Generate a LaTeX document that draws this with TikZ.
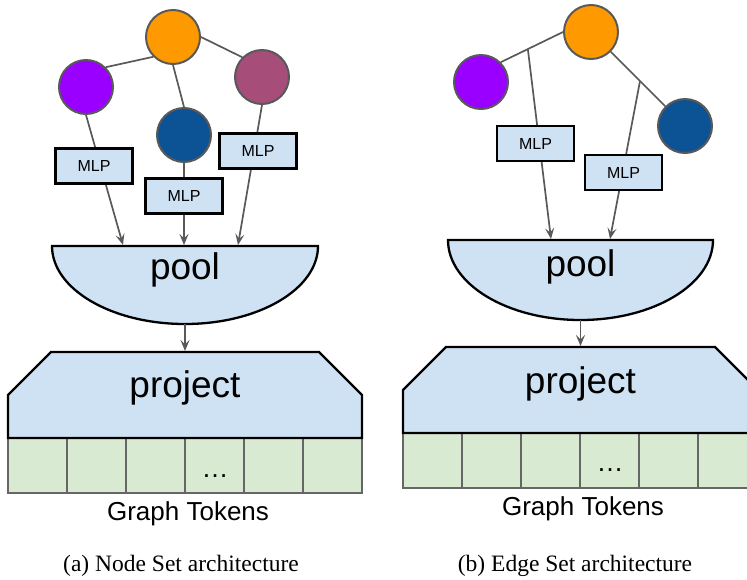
\documentclass[tikz,border=0pt]{standalone}
\usepackage{fontspec}
\setmainfont{Liberation Serif}
\newfontfamily\arialfont{Liberation Sans}
\usetikzlibrary{arrows.meta,calc}
\definecolor{corange}{HTML}{FF9900}
\definecolor{cpurple}{HTML}{9900FF}
\definecolor{cmauve}{HTML}{A64D79}
\definecolor{cdblue}{HTML}{0B5394}
\definecolor{lblue}{HTML}{CFE2F3}
\definecolor{lgreen}{HTML}{D9EAD3}
\definecolor{edgegray}{HTML}{595959}
\definecolor{cellgray}{HTML}{666666}
\begin{document}
\begin{tikzpicture}[x=1pt,y=-1pt,
  gnode/.style={circle,draw=edgegray,line width=2pt,minimum size=54pt,inner sep=0pt},
  mlpbox/.style={draw=black,line width=2.3pt,fill=lblue,minimum width=77pt,minimum height=35pt,inner sep=0pt,font=\arialfont\fontsize{16}{18}\selectfont},
  conn/.style={draw=edgegray,line width=1.7pt},
  arr/.style={conn,-{Stealth[length=11pt,width=9pt,inset=4.5pt]}},
  shapebox/.style={draw=black,line width=2.3pt,fill=lblue},
  cell/.style={draw=cellgray,line width=2pt,fill=lgreen,minimum width=59pt,minimum height=55pt,inner sep=0pt},
  bigtxt/.style={font=\arialfont\fontsize{37}{40}\selectfont,inner sep=0pt},
  toktxt/.style={font=\arialfont\fontsize{26}{28}\selectfont,inner sep=0pt},
  dotstxt/.style={font=\arialfont\fontsize{27}{28}\selectfont,inner sep=0pt,anchor=base},
  captxt/.style={font=\fontsize{23.5}{26}\selectfont,inner sep=0pt,anchor=base}
]
\useasboundingbox (0,0) rectangle (747,579);
\clip (0,0) rectangle (747,579);

% ---------------- (a) Node Set ----------------
\node[gnode,fill=corange] (aor) at (173,37) {};
\node[gnode,fill=cpurple] (apu) at (86,87) {};
\node[gnode,fill=cdblue] (adb) at (184,135) {};
\node[gnode,fill=cmauve] (ama) at (262,77) {};
\draw[conn] (aor.south west) -- (apu.north east);
\draw[conn] (aor.south) -- (adb.north);
\draw[conn] (aor.east) -- (ama.north west);

\draw[shapebox] (52,246) -- (318,246) arc[start angle=0,end angle=180,x radius=133,y radius=78] -- cycle;
\node[bigtxt] (apool) at (185,270) {pool};
\coordinate (ain1) at (123,245);
\coordinate (ain2) at (184,245);
\coordinate (ain3) at (238,245);
\draw[arr] (apu.south) -- (ain1);
\draw[arr] (adb.south) -- (ain2);
\draw[arr] (ama.south) -- (ain3);
\node[mlpbox] (am1) at (94,166) {MLP};
\node[mlpbox] (am2) at (184,196) {MLP};
\node[mlpbox] (am3) at (258,151) {MLP};

\coordinate (apb) at (185,324);
\coordinate (apt) at (185,351);
\draw[arr] (apb) -- (apt);

\foreach \i in {0,...,5} \node[cell] (ac\i) at ({37.5+59*\i},465.5) {};
\draw[shapebox] (8,438) -- (8,395) -- (51,352) -- (319,352) -- (362,395) -- (362,438) -- cycle;
\node[bigtxt] (aproj) at (185,388) {project};
\node[dotstxt] (adots) at (215,477) {…};
\node[toktxt] (atok) at (188,514) {Graph Tokens};
\node[captxt] (acap) at (181,571) {(a) Node Set architecture};

% ---------------- (b) Edge Set ----------------
\node[gnode,fill=corange] (bor) at (591,32) {};
\node[gnode,fill=cpurple] (bpu) at (481,82) {};
\node[gnode,fill=cdblue] (bdb) at (685,126) {};
\draw[conn] (bor.west) -- (bpu.north east);
\draw[conn] (bor.south east) -- (bdb.north west);
\coordinate (be1) at ($(bor.west)!0.565!(bpu.north east)$);
\coordinate (be2) at ($(bor.south east)!0.537!(bdb.north west)$);

\draw[shapebox] (448,240) -- (713,240) arc[start angle=0,end angle=180,x radius=132.5,y radius=80] -- cycle;
\node[bigtxt] (bpool) at (580.5,266.5) {pool};
\coordinate (bin1) at (551,239);
\coordinate (bin2) at (610,239);
\draw[arr] (be1) -- (bin1);
\draw[arr] (be2) -- (bin2);
\node[mlpbox] (bm1) at (535.5,143.5) {MLP};
\node[mlpbox] (bm2) at (623.5,172.5) {MLP};

\coordinate (bpb) at (580.5,320);
\coordinate (bpt) at (580.5,346);
\draw[arr] (bpb) -- (bpt);

\foreach \i in {0,...,5} \node[cell] (bc\i) at ({432.5+59*\i},460.5) {};
\draw[shapebox] (403,433) -- (403,390) -- (446,347) -- (715,347) -- (758,390) -- (758,433) -- cycle;
\node[bigtxt] (bproj) at (580.5,383.5) {project};
\node[dotstxt] (bdots) at (610,471) {…};
\node[toktxt] (btok) at (583,508.5) {Graph Tokens};
\node[captxt] (bcap) at (575,571) {(b) Edge Set architecture};
\end{tikzpicture}
\end{document}
